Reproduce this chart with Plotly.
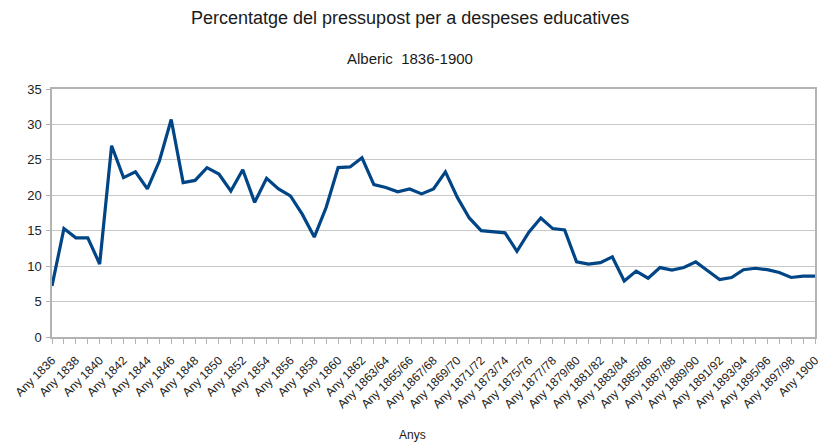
import plotly.graph_objects as go

years_single = [f"Any {y}" for y in range(1836, 1863)]
years_split = ["Any 1862/63"] + [f"Any {y}/{(y + 1) % 100:02d}" for y in range(1863, 1899)] + ["Any 1900"]
categories = years_single + years_split

values = [
    7.2, 15.3, 14.0, 14.0, 10.3, 27.0, 22.5, 23.3, 20.9, 24.8,
    30.7, 21.8, 22.1, 23.9, 23.0, 20.6, 23.6, 19.0, 22.4, 20.9,
    19.9, 17.3, 14.1, 18.3, 23.9, 24.0, 25.3, 21.5, 21.1, 20.5,
    20.9, 20.2, 20.9, 23.3, 19.7, 16.8, 15.0, 14.8, 14.7, 12.1,
    14.8, 16.8, 15.3, 15.1, 10.6, 10.3, 10.5, 11.3, 7.9, 9.3,
    8.3, 9.8, 9.45, 9.8, 10.6, 9.35, 8.1, 8.4, 9.5, 9.7,
    9.5, 9.1, 8.4, 8.6, 8.6,
]

tick_text = [c if i % 2 == 0 else "" for i, c in enumerate(categories)]
y_ticks = [0, 5, 10, 15, 20, 25, 30, 35]

title_text = "Percentatge del pressupost per a despeses educatives"
subtitle_text = "Alberic  1836-1900"
x_title = "Anys"

font_family = "Liberation Sans, Arial, sans-serif"
axis_gray = "#b3b3b3"

fig = go.Figure()
fig.add_trace(go.Scatter(
    x=categories, y=values, mode="lines",
    line=dict(color="#004586", width=3.2),
    hoverinfo="x+y",
))

fig.update_layout(
    width=818, height=442, autosize=False,
    margin=dict(l=52, r=3, t=89, b=105),
    paper_bgcolor="white", plot_bgcolor="white",
    showlegend=False,
    font=dict(family=font_family, color="#222222"),
    xaxis=dict(
        type="category",
        range=[0, len(categories) - 1],
        tickmode="array",
        tickvals=categories,
        ticktext=tick_text,
        tickangle=-45,
        tickfont=dict(size=12, color="#222222"),
        ticks="outside", ticklen=5, tickcolor=axis_gray,
        ticklabelstandoff=5,
        showline=True, linecolor=axis_gray, linewidth=1.5,
        mirror=True,
        showgrid=False,
        zeroline=False,
        automargin=False,
    ),
    yaxis=dict(
        range=[0, 35],
        tickvals=y_ticks,
        tickfont=dict(size=13, color="#222222"),
        ticks="outside", ticklen=4, tickcolor=axis_gray,
        ticklabelstandoff=2,
        showline=True, linecolor=axis_gray, linewidth=1.5,
        mirror=True,
        showgrid=True, gridcolor="#c8c8c8", gridwidth=1,
        zeroline=False,
        automargin=False,
    ),
    annotations=[
        dict(text=title_text, xref="paper", yref="paper", x=0.469, y=1,
             yshift=71, showarrow=False, xanchor="center", yanchor="middle",
             font=dict(size=18, color="#1a1a1a")),
        dict(text=subtitle_text, xref="paper", yref="paper", x=0.469, y=1,
             yshift=31, showarrow=False, xanchor="center", yanchor="middle",
             font=dict(size=15, color="#1a1a1a")),
        dict(text=x_title, xref="paper", yref="paper", x=0.473, y=0,
             yshift=-98, showarrow=False, xanchor="center", yanchor="middle",
             font=dict(size=12, color="#1a1a1a")),
    ],
)

post_js = (
    "document.body.style.margin='0';"
    "document.body.style.padding='0';"
    "document.body.style.overflow='hidden';"
    "var gd=document.getElementById('{plot_id}');"
    "Plotly.relayout(gd,{width:818,height:442});"
)

fig.write_html("out.html", config={"responsive": False, "displayModeBar": False},
               post_script=post_js)
